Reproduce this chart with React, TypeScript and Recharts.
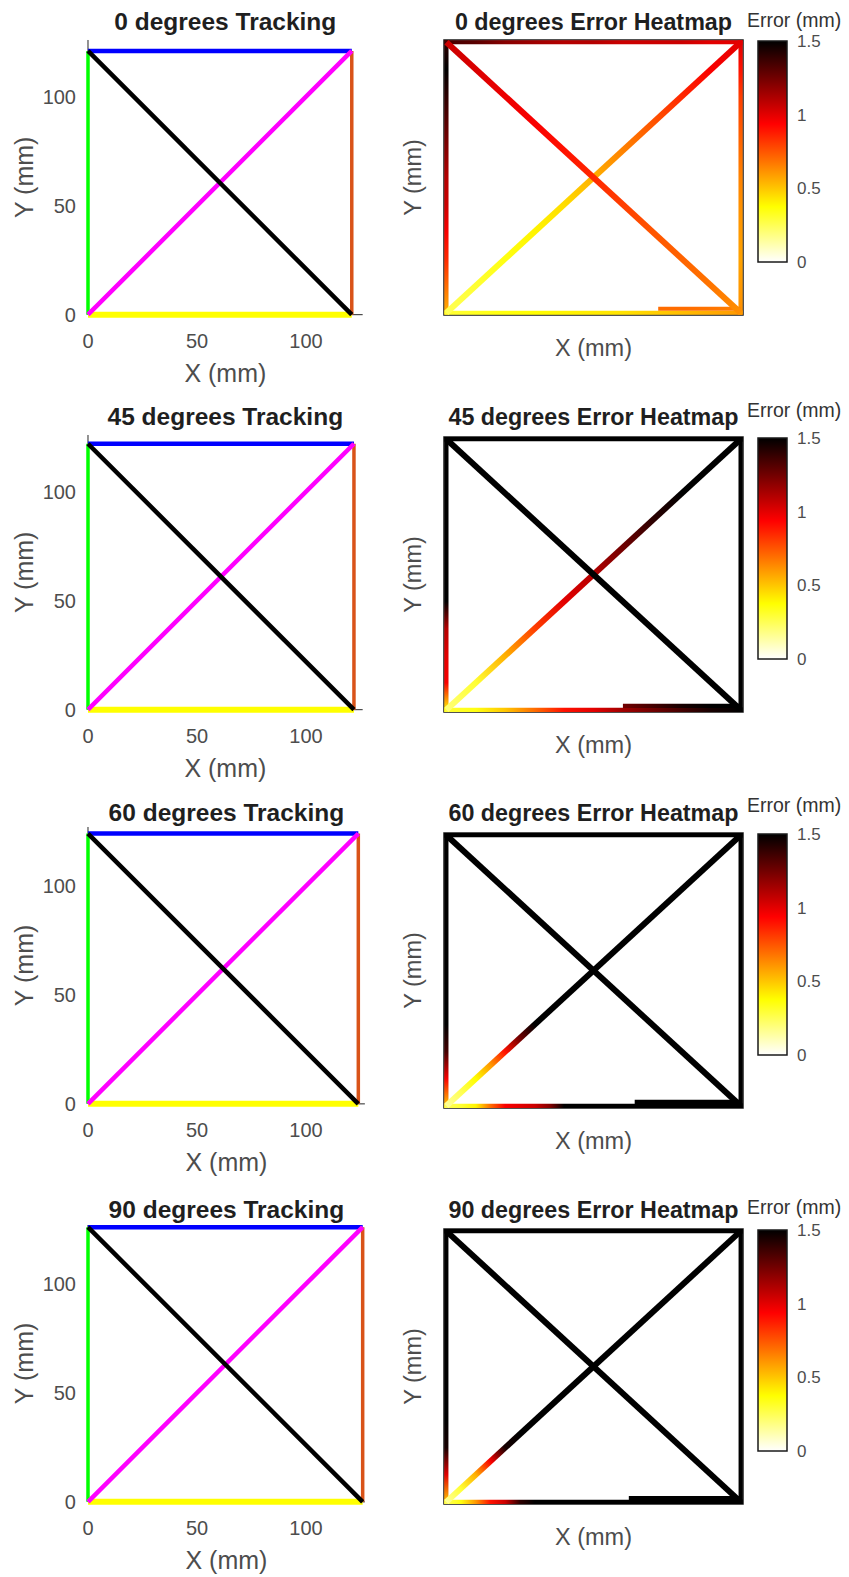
import React from 'react';
import { ComposedChart, Line, XAxis, YAxis, ReferenceLine, ReferenceArea } from 'recharts';

const ANGLES = ['0', '45', '60', '90'];
// side of the traced square (mm) and axis limit of the tracking plots
const SIDES = [121, 122, 124, 126];
const TRACK_LIMITS = [126, 126, 127, 127];
const TRACK_TICKS = [0, 50, 100];
const CBAR_TICKS = [0, 0.5, 1, 1.5];
const ERR_MAX = 1.5;

// error (mm) read along each leg, evenly spaced from the start of the leg to its end
// left: bottom->top, top: left->right, right: top->bottom, bottom: left->right,
// inner: second row of cells along the bottom, up: (0,0)->(L,L), down: (0,L)->(L,0)
const ERR_0 = {
  left: [0.55, 0.7, 0.85, 0.95, 1.05, 1.1, 1.2, 1.3, 1.4, 1.5, 1.4],
  top: [1.35, 1.3, 1.2, 1.15, 1.1, 1.1, 1.05, 1.05, 1.05, 1.0, 1.0],
  right: [1.0, 0.9, 0.8, 0.75, 0.7, 0.65, 0.62, 0.6, 0.58, 0.6, 0.62],
  bottom: [0.3, 0.33, 0.36, 0.38, 0.4, 0.42, 0.44, 0.48, 0.52, 0.56, 0.6],
  inner: [0.7, 0.7, 0.68, 0.65],
  up: [0.25, 0.3, 0.35, 0.4, 0.45, 0.55, 0.65, 0.75, 0.85, 0.95, 1.0],
  down: [1.05, 1.02, 0.98, 0.95, 0.9, 0.85, 0.8, 0.75, 0.72, 0.68, 0.62],
};
const ERR_45 = {
  left: [0.4, 0.95, 1.0, 1.1, 1.55, 1.6, 1.6, 1.6, 1.6, 1.6, 1.6],
  top: [1.6, 1.6],
  right: [1.6, 1.6],
  bottom: [0.3, 0.35, 0.5, 0.7, 0.9, 1.0, 1.15, 1.25, 1.35, 1.45, 1.6],
  inner: [1.25, 1.35, 1.45, 1.55, 1.6],
  up: [0.2, 0.3, 0.55, 0.8, 1.0, 1.1, 1.25, 1.4, 1.55, 1.6, 1.6],
  down: [1.6, 1.6, 1.6, 1.6, 1.6, 1.55, 1.5, 1.5, 1.55, 1.6, 1.6],
};
const ERR_60 = {
  left: [0.5, 0.95, 1.35, 1.6, 1.6, 1.6, 1.6, 1.6, 1.6, 1.6, 1.6],
  top: [1.6, 1.6],
  right: [1.6, 1.6],
  bottom: [0.25, 0.3, 0.4, 0.7, 0.95, 1.0, 1.05, 1.2, 1.5, 1.6, 1.6, 1.6, 1.6, 1.6, 1.6, 1.6, 1.6, 1.6, 1.6, 1.6, 1.6],
  inner: [1.6, 1.6],
  up: [0.15, 0.25, 0.38, 0.6, 0.9, 1.25, 1.55, 1.6, 1.6, 1.6, 1.6, 1.6, 1.6, 1.6, 1.6, 1.6, 1.6, 1.6, 1.6, 1.6, 1.6],
  down: [1.6, 1.6],
};
const ERR_90 = {
  left: [0.5, 1.0, 1.45, 1.6, 1.6, 1.6, 1.6, 1.6, 1.6, 1.6, 1.6],
  top: [1.6, 1.6],
  right: [1.6, 1.6],
  bottom: [0.25, 0.35, 0.6, 0.9, 1.05, 1.4, 1.6, 1.6, 1.6, 1.6, 1.6, 1.6, 1.6, 1.6, 1.6, 1.6, 1.6, 1.6, 1.6, 1.6, 1.6],
  inner: [1.6, 1.6],
  up: [0.15, 0.3, 0.55, 0.95, 1.45, 1.6, 1.6, 1.6, 1.6, 1.6, 1.6, 1.6, 1.6, 1.6, 1.6, 1.6, 1.6, 1.6, 1.6, 1.6, 1.6],
  down: [1.6, 1.6],
};
const ERRORS = [ERR_0, ERR_45, ERR_60, ERR_90];
// where the inner bottom row of cells starts (fraction of the side)
const INNER_START = [0.72, 0.6, 0.64, 0.62];

// layout (px)
const PX = 2.18;
const TRACK_ZERO = [315, 710, 1104, 1502];
const TITLE_Y = [22, 417, 813, 1210];
const HEAT_TOP = [40, 437, 833, 1229];
const HEAT_W = 299;
const HEAT_H = 275;
const CBAR_H = 221;
const CBAR_LABEL_Y = [20, 410, 805, 1207];

const TICK = '#4d4d4d';
const LABEL = '#4d4d4d';
const TITLE = '#1f1f1f';

function hot(v: number): string {
  const u = 1 - Math.min(Math.max(v / ERR_MAX, 0), 1);
  const r = Math.min(1, u / 0.375);
  const g = Math.min(1, Math.max(0, (u - 0.375) / 0.375));
  const b = Math.min(1, Math.max(0, (u - 0.75) / 0.25));
  return `rgb(${Math.round(r * 255)},${Math.round(g * 255)},${Math.round(b * 255)})`;
}

const xLabel = (text: string, dy: number, size: number) => (props: any) => {
  const vb = props.viewBox || {};
  const cx = (vb.x ?? 0) + (vb.width ?? 0) / 2;
  const cy = (vb.y ?? 0) + dy;
  return (
    <text x={cx} y={cy} textAnchor="middle" dominantBaseline="central" fill={LABEL} fontSize={size}>
      {text}
    </text>
  );
};

const yLabel = (text: string, dx: number, size: number) => (props: any) => {
  const vb = props.viewBox || {};
  const cx = (vb.x ?? 0) + dx;
  const cy = (vb.y ?? 0) + (vb.height ?? 0) / 2;
  return (
    <text x={cx} y={cy} transform={`rotate(-90 ${cx} ${cy})`} textAnchor="middle" dominantBaseline="central" fill={LABEL} fontSize={size}>
      {text}
    </text>
  );
};

function trackLegs(L: number, D: number) {
  return [
    // axis lines sit underneath the traced path
    { key: 'yaxis', color: '#262626', w: 1, pts: [{ x: 0, y: 0 }, { x: 0, y: D }] },
    { key: 'xaxis', color: '#262626', w: 1, pts: [{ x: 0, y: 0 }, { x: D, y: 0 }] },
    { key: 'left', color: '#00FF00', w: 3.5, pts: [{ x: 0, y: 0 }, { x: 0, y: L }] },
    { key: 'bottom', color: '#FFFF00', w: 6, pts: [{ x: 0, y: 0 }, { x: L, y: 0 }] },
    { key: 'top', color: '#0000FF', w: 4.5, pts: [{ x: 0, y: L }, { x: L, y: L }] },
    { key: 'right', color: '#D95319', w: 3.5, pts: [{ x: L, y: L }, { x: L, y: 0 }] },
    { key: 'up', color: '#FF00FF', w: 4.5, pts: [{ x: 0, y: 0 }, { x: L, y: L }] },
    { key: 'down', color: '#000000', w: 4.5, pts: [{ x: 0, y: L }, { x: L, y: 0 }] },
  ];
}

function Title({ text, cx, cy, size }: { text: string; cx: number; cy: number; size: number }) {
  return (
    <div
      style={{
        position: 'absolute',
        left: cx - 200,
        width: 400,
        top: cy - 12,
        height: 24,
        lineHeight: '24px',
        textAlign: 'center',
        fontSize: size,
        fontWeight: 'bold',
        color: TITLE,
        whiteSpace: 'nowrap',
      }}
    >
      {text}
    </div>
  );
}

function TrackPanel({ row }: { row: number }) {
  const L = SIDES[row];
  const D = TRACK_LIMITS[row];
  const size = D * PX;
  const mTop = 30;
  const top = TRACK_ZERO[row] - size - mTop;
  const legs = trackLegs(L, D);
  return (
    <>
      <Title text={`${ANGLES[row]} degrees Tracking`} cx={88 + size / 2} cy={TITLE_Y[row]} size={24.5} />
      <div style={{ position: 'absolute', left: 0, top }}>
        <ComposedChart width={88 + size + 20} height={mTop + size + 75} margin={{ top: mTop, right: 20, bottom: 0, left: 0 }}>
          <XAxis
            type="number"
            dataKey="x"
            domain={[0, D]}
            ticks={TRACK_TICKS}
            interval={0}
            tickLine={false}
            tickSize={0}
            tickMargin={19}
            height={75}
            axisLine={false}
            tick={{ fill: TICK, fontSize: 20 }}
            label={{ content: xLabel('X (mm)', 58, 25) }}
          />
          <YAxis
            type="number"
            dataKey="y"
            domain={[0, D]}
            ticks={TRACK_TICKS}
            interval={0}
            tickLine={false}
            tickSize={0}
            tickMargin={12}
            width={88}
            axisLine={false}
            tick={{ fill: TICK, fontSize: 20 }}
            label={{ content: yLabel('Y (mm)', 24, 25) }}
          />
          {legs.map((l) => (
            <Line
              key={l.key}
              data={l.pts}
              dataKey="y"
              type="linear"
              stroke={l.color}
              strokeWidth={l.w}
              dot={false}
              activeDot={false}
              isAnimationActive={false}
            />
          ))}
        </ComposedChart>
      </div>
    </>
  );
}

function gradientLeg(id: string, err: number[], width: number, cap: 'butt' | 'square') {
  return (p: any) => (
    <g>
      <defs>
        <linearGradient id={id} gradientUnits="userSpaceOnUse" x1={p.x1} y1={p.y1} x2={p.x2} y2={p.y2}>
          {err.map((v, i) => (
            <stop key={i} offset={err.length > 1 ? i / (err.length - 1) : 0} stopColor={hot(v)} />
          ))}
        </linearGradient>
      </defs>
      <line x1={p.x1} y1={p.y1} x2={p.x2} y2={p.y2} stroke={`url(#${id})`} strokeWidth={width} strokeLinecap={cap} />
    </g>
  );
}

function HeatPanel({ row }: { row: number }) {
  const L = SIDES[row];
  const e = ERRORS[row];
  const mTop = 10;
  const top = HEAT_TOP[row] - mTop;
  const legs = [
    { id: 'left', from: [0, 0], to: [0, L], err: e.left, w: 4.2, cap: 'square' as const },
    { id: 'top', from: [0, L], to: [L, L], err: e.top, w: 4.2, cap: 'square' as const },
    { id: 'right', from: [L, L], to: [L, 0], err: e.right, w: 4.2, cap: 'square' as const },
    { id: 'bottom', from: [0, 0], to: [L, 0], err: e.bottom, w: 4.2, cap: 'square' as const },
    { id: 'inner', from: [L * INNER_START[row], 1.8], to: [L, 1.8], err: e.inner, w: 4.2, cap: 'butt' as const },
    { id: 'up', from: [0, 0], to: [L, L], err: e.up, w: 6, cap: 'butt' as const },
    { id: 'down', from: [0, L], to: [L, 0], err: e.down, w: 6, cap: 'butt' as const },
  ];
  return (
    <>
      <Title text={`${ANGLES[row]} degrees Error Heatmap`} cx={444 + HEAT_W / 2} cy={TITLE_Y[row]} size={23.3} />
      <div style={{ position: 'absolute', left: 390, top }}>
        <ComposedChart width={54 + HEAT_W + 10} height={mTop + HEAT_H + 60} margin={{ top: mTop, right: 10, bottom: 0, left: 0 }}>
          <XAxis
            type="number"
            dataKey="x"
            domain={[-1, L + 1]}
            allowDataOverflow
            tick={false}
            tickLine={false}
            axisLine={false}
            height={60}
            label={{ content: xLabel('X (mm)', 33, 23.5) }}
          />
          <YAxis
            type="number"
            dataKey="y"
            domain={[-1, L + 1]}
            allowDataOverflow
            tick={false}
            tickLine={false}
            axisLine={false}
            width={54}
            label={{ content: yLabel('Y (mm)', 23, 23.5) }}
          />
          {legs.map((l) => (
            <ReferenceLine
              key={l.id}
              segment={[
                { x: l.from[0], y: l.from[1] },
                { x: l.to[0], y: l.to[1] },
              ]}
              shape={gradientLeg(`heat-${row}-${l.id}`, l.err, l.w, l.cap)}
            />
          ))}
          <ReferenceArea x1={-1} x2={L + 1} y1={-1} y2={L + 1} fill="none" fillOpacity={0} stroke="#1a1a1a" strokeWidth={1.5} />
        </ComposedChart>
      </div>
    </>
  );
}

function ColorBar({ row }: { row: number }) {
  const id = `cbar-${row}`;
  const n = 24;
  const stops = Array.from({ length: n + 1 }, (_, i) => i / n);
  return (
    <>
      <div
        style={{
          position: 'absolute',
          left: 747,
          top: CBAR_LABEL_Y[row] - 11,
          height: 22,
          lineHeight: '22px',
          fontSize: 19.5,
          color: '#333',
          whiteSpace: 'nowrap',
        }}
      >
        Error (mm)
      </div>
      <div style={{ position: 'absolute', left: 750, top: HEAT_TOP[row] + 1 - 15 }}>
        <ComposedChart width={8 + 29 + 60} height={15 + CBAR_H + 15} margin={{ top: 15, right: 0, bottom: 15, left: 8 }}>
          <XAxis type="number" dataKey="x" domain={[0, 1]} allowDataOverflow hide />
          <YAxis
            type="number"
            dataKey="v"
            orientation="right"
            domain={[0, ERR_MAX]}
            ticks={CBAR_TICKS}
            interval={0}
            allowDataOverflow
            width={60}
            axisLine={false}
            tickLine={false}
            tickSize={0}
            tickMargin={10}
            tick={{ fill: TICK, fontSize: 17 }}
          />
          <ReferenceArea
            x1={0}
            x2={1}
            y1={0}
            y2={ERR_MAX}
            shape={(p: any) => (
              <g>
                <defs>
                  <linearGradient id={id} x1="0" y1="0" x2="0" y2="1">
                    {stops.map((t) => (
                      <stop key={t} offset={t} stopColor={hot(ERR_MAX * (1 - t))} />
                    ))}
                  </linearGradient>
                </defs>
                <rect x={p.x} y={p.y} width={p.width} height={p.height} fill={`url(#${id})`} stroke="#1a1a1a" strokeWidth={1.5} />
              </g>
            )}
          />
        </ComposedChart>
      </div>
    </>
  );
}

export default function App() {
  return (
    <div
      style={{
        position: 'absolute',
        left: 0,
        top: 0,
        width: 849,
        height: 1577,
        background: '#fff',
        overflow: 'hidden',
        fontFamily: '"Liberation Sans", Arial, Helvetica, sans-serif',
      }}
    >
      {ANGLES.map((_, row) => (
        <React.Fragment key={row}>
          <TrackPanel row={row} />
          <HeatPanel row={row} />
          <ColorBar row={row} />
        </React.Fragment>
      ))}
    </div>
  );
}
